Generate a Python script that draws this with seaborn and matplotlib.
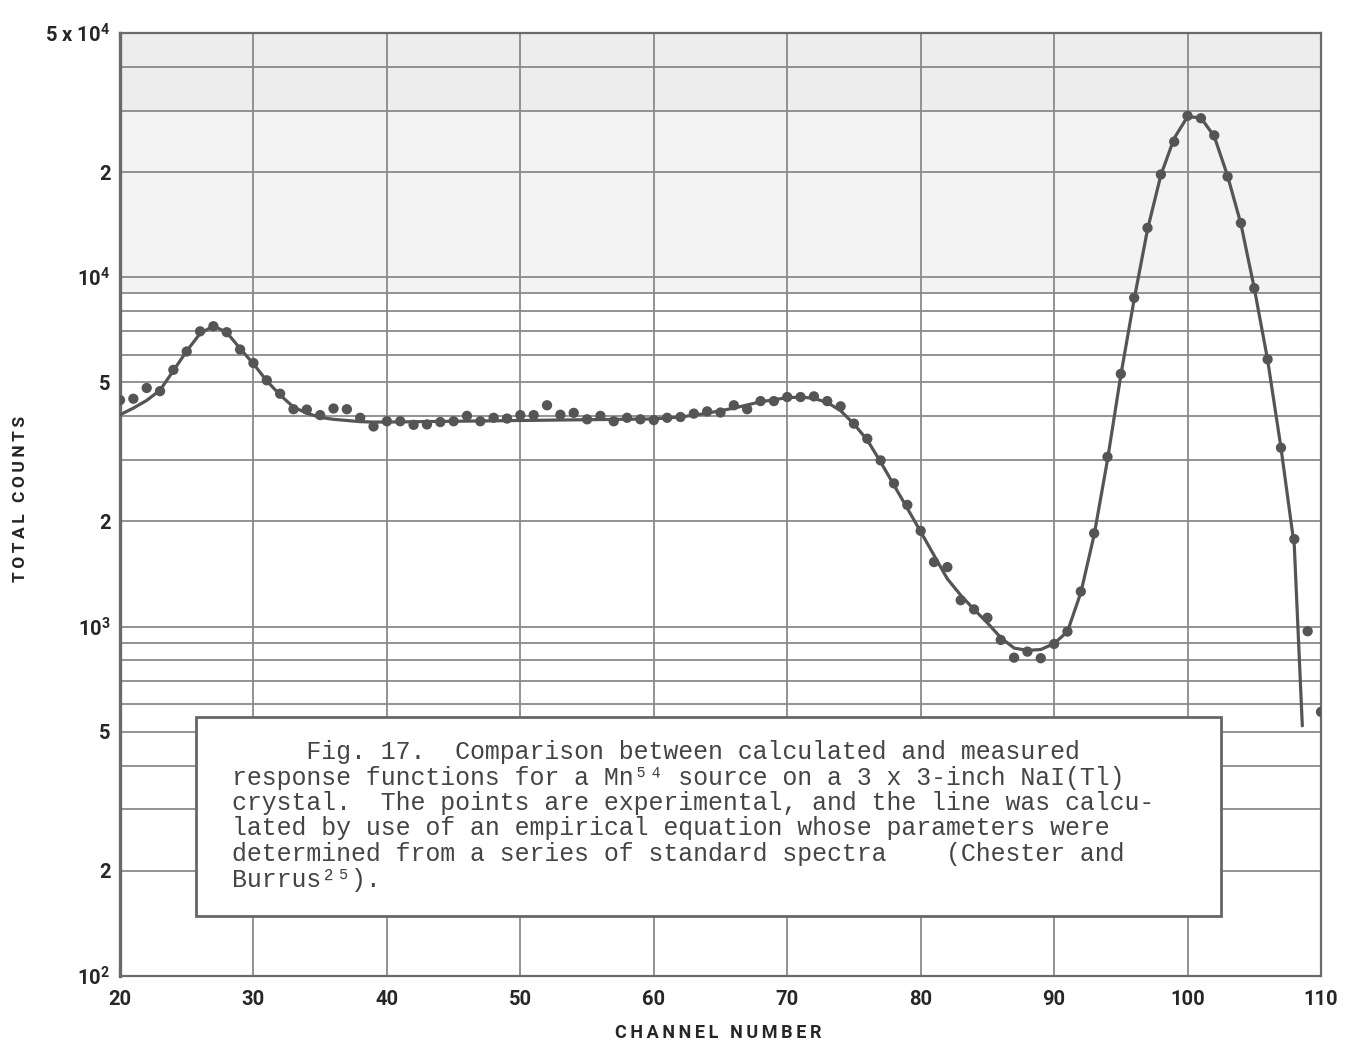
import numpy as np
import pandas as pd
import matplotlib
matplotlib.use("Agg")
import matplotlib.pyplot as plt
from matplotlib.ticker import LogLocator, NullFormatter, FixedLocator
from matplotlib.patches import Rectangle
import seaborn as sns

# Measured pulse-height spectrum (one point per channel)
meas_channel = list(range(20, 111))
meas_counts = [
    4450, 4490, 4820, 4720, 5430, 6130, 7000, 7240, 6960, 6210,   # 20-29
    5680, 5070, 4640, 4190, 4180, 4030, 4210, 4190, 3960, 3740,   # 30-39
    3870, 3870, 3780, 3790, 3850, 3870, 4010, 3870, 3960, 3940,   # 40-49
    4030, 4030, 4300, 4040, 4090, 3920, 4010, 3870, 3960, 3920,   # 50-59
    3900, 3960, 3980, 4070, 4130, 4100, 4300, 4190, 4420, 4420,   # 60-69
    4540, 4540, 4560, 4420, 4270, 3810, 3450, 2990, 2570, 2230,   # 70-79
    1880, 1530, 1480, 1190, 1120, 1060, 916, 815, 848, 812,       # 80-89
    892, 968, 1260, 1850, 3060, 5290, 8730, 13840, 19680, 24430,  # 90-99
    28960, 28510, 25470, 19410, 14290, 9300, 5820, 3250, 1780, 970,  # 100-109
    570,                                                           # 110
]

# Calculated response function
calc_channel = [20, 21, 22, 23, 24, 25, 26, 27, 28, 29,
                30, 31, 32, 33, 34, 35, 36, 37, 38, 39,
                40, 45, 50, 55, 60, 62, 64, 66, 68, 70,
                71, 72, 73, 74, 75, 76, 77, 78, 79, 80,
                81, 82, 83, 84, 85, 86, 87, 88, 89, 90,
                91, 92, 93, 94, 95, 96, 97, 98, 99, 100,
                101, 102, 103, 104, 105, 106, 107, 108, 108.6]
calc_counts = [4040, 4220, 4440, 4750, 5400, 6150, 6900, 7250, 6950, 6250,
               5650, 5050, 4600, 4250, 4080, 3970, 3920, 3890, 3860, 3850,
               3850, 3870, 3890, 3910, 3930, 3980, 4080, 4220, 4400, 4520,
               4540, 4500, 4380, 4150, 3800, 3420, 2960, 2540, 2180, 1870,
               1600, 1370, 1230, 1120, 1025, 930, 868, 855, 860, 894,
               968, 1250, 1830, 3000, 5250, 8650, 13700, 19600, 25000, 28800,
               28600, 25300, 19500, 14200, 9300, 5800, 3250, 1700, 520]

x_ticks = [20, 30, 40, 50, 60, 70, 80, 90, 100, 110]
y_ticks = [1e2, 2e2, 5e2, 1e3, 2e3, 5e3, 1e4, 2e4, 5e4]
y_tick_labels = ["10$^2$", "2", "5", "10$^3$", "2", "5", "10$^4$", "2", "5 x 10$^4$"]

x_label = "CHANNEL NUMBER"
y_label = "TOTAL COUNTS"

caption_lines = [
    "     Fig. 17.  Comparison between calculated and measured",
    "response functions for a Mn\u2075\u2074 source on a 3 x 3-inch NaI(Tl)",
    "crystal.  The points are experimental, and the line was calcu-",
    "lated by use of an empirical equation whose parameters were",
    "determined from a series of standard spectra    (Chester and",
    "Burrus\u00b2\u2075).",
]

meas = pd.DataFrame({"channel": meas_channel, "counts": meas_counts})
calc = pd.DataFrame({"channel": calc_channel, "counts": calc_counts})

sns.set_theme(style="white")
plt.rcParams["font.family"] = ["Roboto", "DejaVu Sans"]
plt.rcParams["mathtext.default"] = "regular"


def spaced(s):
    # widen the tracking of an axis title with thin spaces
    return "\u2009".join(s)


W, H = 1349, 1044
fig = plt.figure(figsize=(W / 100, H / 100), dpi=100)
ax = fig.add_axes([120 / W, 1 - 976 / H, (1321 - 120) / W, (976 - 33) / H])

ink = "#555555"
grid_c = "#8a8a8a"
label_c = "#262626"

ax.set_yscale("log")
ax.set_xlim(20, 110)
ax.set_ylim(100, 5e4)

# faint toning of the upper part of the sheet
ax.axhspan(3e4, 5e4, color="#ededed", zorder=0, lw=0)
ax.axhspan(9e3, 3e4, color="#f3f3f3", zorder=0, lw=0)

sns.lineplot(data=calc, x="channel", y="counts", ax=ax, color=ink,
             linewidth=2.3, zorder=3, legend=False)
sns.scatterplot(data=meas, x="channel", y="counts", ax=ax, color=ink,
                s=55, edgecolor="none", zorder=4, legend=False)

ax.xaxis.set_major_locator(FixedLocator(x_ticks))
ax.set_xticklabels([str(t) for t in x_ticks])
ax.yaxis.set_major_locator(FixedLocator(y_ticks))
ax.set_yticklabels(y_tick_labels)
ax.yaxis.set_minor_locator(LogLocator(base=10, subs=[3, 4, 6, 7, 8, 9], numticks=20))
ax.yaxis.set_minor_formatter(NullFormatter())

ax.grid(True, which="major", axis="x", color=grid_c, lw=1.3, zorder=1)
ax.grid(True, which="both", axis="y", color=grid_c, lw=1.3, zorder=1)
ax.set_axisbelow(True)

ax.tick_params(axis="both", which="both", length=0)
ax.tick_params(axis="x", pad=10, labelsize=14.5, labelcolor=label_c)
ax.tick_params(axis="y", pad=7, labelsize=14.5, labelcolor=label_c)
for lab in ax.get_xticklabels() + ax.get_yticklabels():
    lab.set_fontweight("bold")

for sp in ax.spines.values():
    sp.set_color("#6a6a6a")
    sp.set_linewidth(1.6)
ax.spines["left"].set_linewidth(2.4)

ax.set_xlabel("")
ax.set_ylabel("")
fig.text(718 / W, 1 - 1033 / H, spaced(x_label), ha="center", va="center",
         fontsize=13, color=label_c, fontweight="bold")
fig.text(21 / W, 1 - 499 / H, spaced(y_label), ha="center", va="center",
         rotation=90, fontsize=12.5, color=label_c, fontweight="bold")

# caption box laid over the lower part of the plot
box = Rectangle((196 / W, 1 - 916 / H), (1221 - 196) / W, (916 - 717) / H,
                transform=fig.transFigure, facecolor="white",
                edgecolor="#666666", lw=2.0, zorder=5)
fig.patches.append(box)

baselines = [759, 784.5, 810, 835.5, 861, 886.5]
for line, yb in zip(caption_lines, baselines):
    fig.text(232 / W, 1 - yb / H, line, ha="left", va="baseline",
             fontsize=17.9, color="#444444", zorder=6,
             family=["Liberation Mono", "DejaVu Sans Mono"])

fig.savefig("out.png", dpi=100, facecolor="white")
